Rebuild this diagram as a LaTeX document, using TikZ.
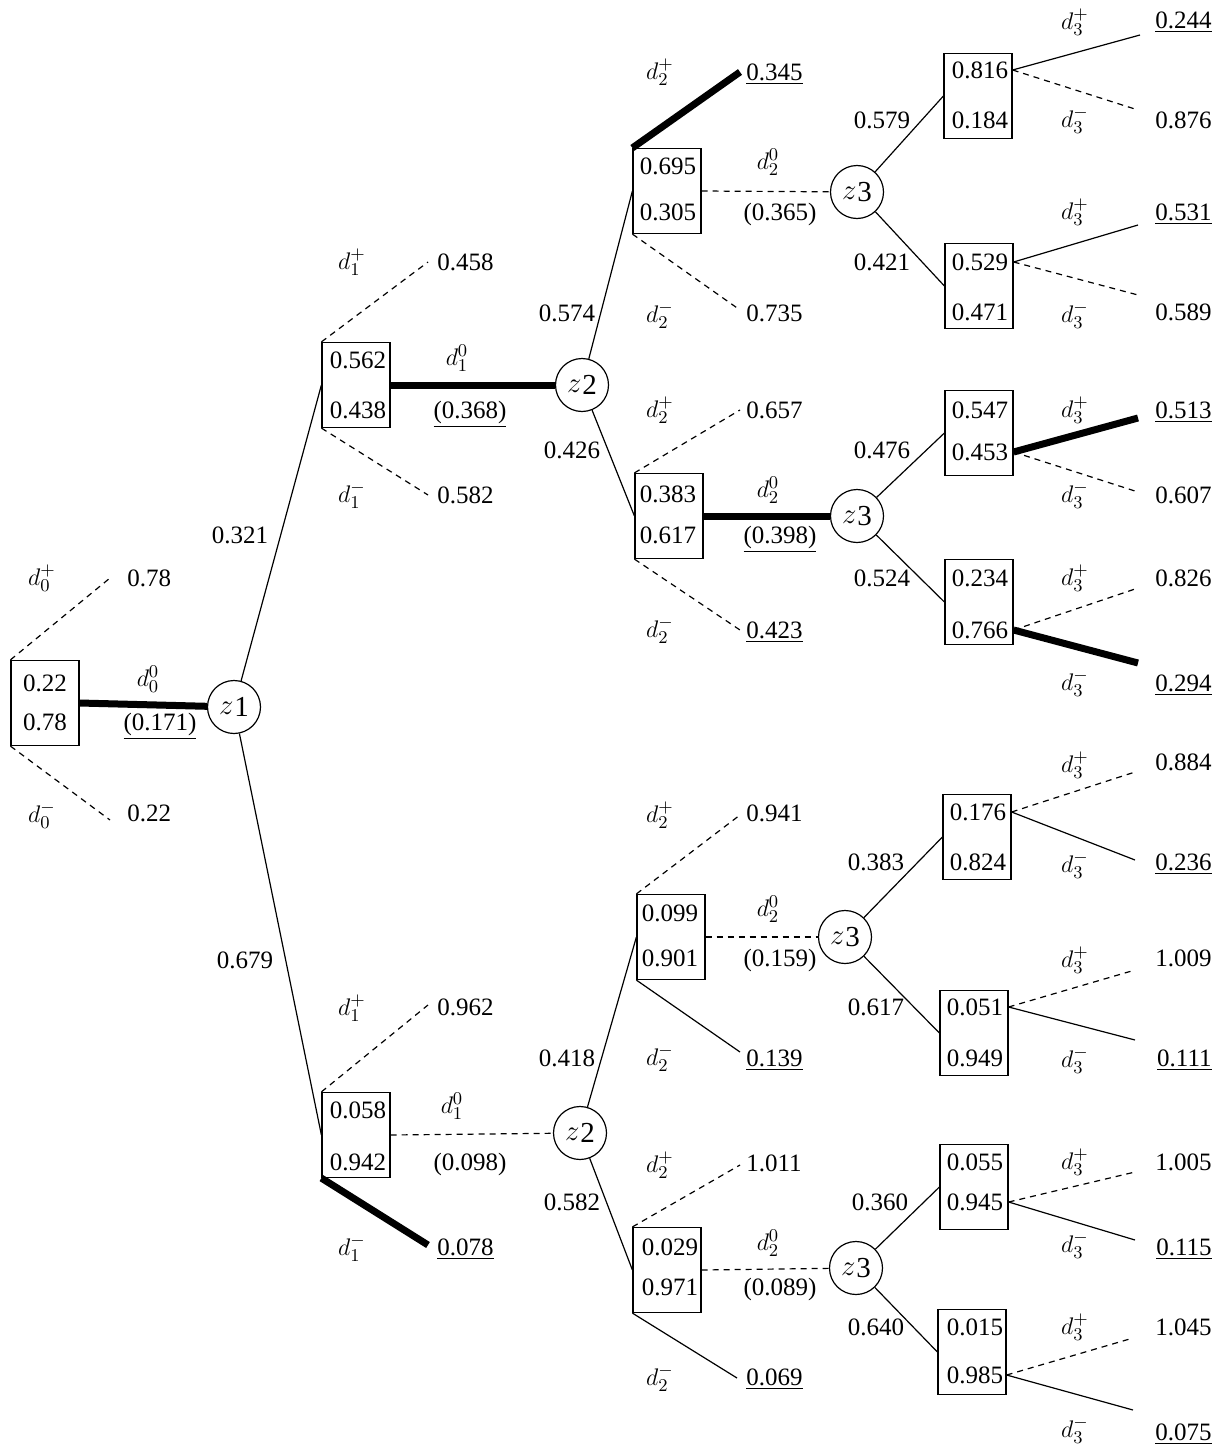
\documentclass[tikz,border=0pt]{standalone}
\usepackage{fontspec}
\setmainfont{Liberation Serif}
\newfontfamily\tms{Liberation Serif}
\begin{document}
\begin{tikzpicture}[x=0.5pt,y=-0.5pt,font=\tms\fontsize{12.5}{15}\selectfont,
  box/.style={draw,line width=0.6pt,minimum width=34pt,minimum height=42.5pt,inner sep=0pt},
  chance/.style={circle,draw,line width=0.6pt,minimum size=26.5pt,inner sep=0pt,font=\tms\fontsize{14.5}{16}\selectfont},
  num/.style={inner sep=0pt,text height=8.5pt,text depth=0pt},
  lab/.style={inner sep=0pt,font=\fontsize{13}{15}\selectfont},
  thinl/.style={line width=0.6pt},
  dsh/.style={line width=0.6pt,dash pattern=on 3pt off 2.5pt},
  heavy/.style={line width=3.5pt}]
\useasboundingbox (0,0) rectangle (1224,1445);

% ---------------- level 0 ----------------
\node[box] (B0) at (45,703) {};
\node[num] (B0t) at (45,683) {0.22};
\node[num] (B0b) at (45,722) {0.78};
\node[chance] (z1) at (234,707) {$z$\kern0.5pt\raisebox{-1pt}{1}};
\coordinate (c0p) at (110,578);
\coordinate (c0m) at (110,820);
\draw[dsh] (B0.north west) -- (c0p);
\draw[dsh] (B0.south west) -- (c0m);
\draw[heavy] (B0.east) -- (z1);
\node[lab] (l0p) at (42,578) {$d_0^{+}$};
\node[lab] (l0m) at (42,815) {$d_0^{-}$};
\node[lab] (l0z) at (148,679) {$d_0^{0}$};
\node[num,anchor=west] (v0p) at (127,578) {0.78};
\node[num,anchor=west] (v0m) at (127,813) {0.22};
\node[num] (v0z) at (160,722) {\underline{(0.171)}};

% ---------------- level 1 upper ----------------
\node[box] (B1) at (356,385) {};
\node[num] (B1t) at (358,360) {0.562};
\node[num] (B1b) at (358,410) {0.438};
\node[chance] (z2a) at (582,385) {$z$\kern0.5pt\raisebox{-1pt}{2}};
\draw[thinl] (z1) -- (B1.west);
\node[num] (p1u) at (240,535) {0.321};
\coordinate (c1p) at (428,262);
\coordinate (c1m) at (428,495);
\draw[dsh] (B1.north west) -- (c1p);
\draw[dsh] (B1.south west) -- (c1m);
\draw[heavy] (B1.east) -- (z2a);
\node[lab] (l1p) at (352,262) {$d_1^{+}$};
\node[lab] (l1m) at (352,495) {$d_1^{-}$};
\node[lab] (l1z) at (457,358) {$d_1^{0}$};
\node[num,anchor=west] (v1p) at (437,262) {0.458};
\node[num,anchor=west] (v1m) at (437,495) {0.582};
\node[num] (v1z) at (470,410) {\underline{(0.368)}};

% ---------------- level 1 lower ----------------
\node[box] (B1L) at (356,1135) {};
\node[num] (B1Lt) at (358,1110) {0.058};
\node[num] (B1Lb) at (358,1162) {0.942};
\node[chance] (z2b) at (580,1133) {$z$\kern0.5pt\raisebox{-1pt}{2}};
\draw[thinl] (z1) -- (B1L.west);
\node[num] (p1l) at (245,960) {0.679};
\coordinate (c1Lp) at (428,1005);
\coordinate (c1Lm) at (428,1245);
\draw[dsh] (B1L.north west) -- (c1Lp);
\draw[heavy] (B1L.south west) -- (c1Lm);
\draw[dsh] (B1L.east) -- (z2b);
\node[lab] (l1Lp) at (352,1008) {$d_1^{+}$};
\node[lab] (l1Lm) at (352,1248) {$d_1^{-}$};
\node[lab] (l1Lz) at (452,1106) {$d_1^{0}$};
\node[num,anchor=west] (v1Lp) at (437,1007) {0.962};
\node[num,anchor=west] (v1Lm) at (437,1247) {\underline{0.078}};
\node[num] (v1Lz) at (470,1162) {(0.098)};

% ---------------- level 2 : B2a ----------------
\node[box] (B2a) at (667,191) {};
\node[num] (B2at) at (668,166) {0.695};
\node[num] (B2ab) at (668,212) {0.305};
\node[chance] (z3a) at (857,192) {$z$\kern0.5pt\raisebox{-1pt}{3}};
\draw[thinl] (z2a) -- (B2a.west);
\node[num] (p2a) at (567,313) {0.574};
\coordinate (c2ap) at (740,72);
\coordinate (c2am) at (740,310);
\draw[heavy] (B2a.north west) -- (c2ap);
\draw[dsh] (B2a.south west) -- (c2am);
\draw[dsh] (B2a.east) -- (z3a);
\node[lab] (l2ap) at (660,72) {$d_2^{+}$};
\node[lab] (l2am) at (660,315) {$d_2^{-}$};
\node[lab] (l2az) at (768,162) {$d_2^{0}$};
\node[num,anchor=west] (v2ap) at (746,72) {\underline{0.345}};
\node[num,anchor=west] (v2am) at (746,313) {0.735};
\node[num] (v2az) at (780,212) {(0.365)};

% ---------------- level 2 : B2b ----------------
\node[box] (B2b) at (669,516) {};
\node[num] (B2bt) at (668,494) {0.383};
\node[num] (B2bb) at (668,535) {0.617};
\node[chance] (z3b) at (857,516) {$z$\kern0.5pt\raisebox{-1pt}{3}};
\draw[thinl] (z2a) -- (B2b.west);
\node[num] (p2b) at (572,450) {0.426};
\coordinate (c2bp) at (740,410);
\coordinate (c2bm) at (740,630);
\draw[dsh] (B2b.north west) -- (c2bp);
\draw[dsh] (B2b.south west) -- (c2bm);
\draw[heavy] (B2b.east) -- (z3b);
\node[lab] (l2bp) at (660,410) {$d_2^{+}$};
\node[lab] (l2bm) at (660,630) {$d_2^{-}$};
\node[lab] (l2bz) at (768,490) {$d_2^{0}$};
\node[num,anchor=west] (v2bp) at (746,410) {0.657};
\node[num,anchor=west] (v2bm) at (746,630) {\underline{0.423}};
\node[num] (v2bz) at (780,535) {\underline{(0.398)}};

% ---------------- level 2 : B2c ----------------
\node[box] (B2c) at (671,937) {};
\node[num] (B2ct) at (670,913) {0.099};
\node[num] (B2cb) at (670,958) {0.901};
\node[chance] (z3c) at (845,937) {$z$\kern0.5pt\raisebox{-1pt}{3}};
\draw[thinl] (z2b) -- (B2c.west);
\node[num] (p2c) at (567,1058) {0.418};
\coordinate (c2cp) at (740,815);
\coordinate (c2cm) at (740,1052);
\draw[dsh] (B2c.north west) -- (c2cp);
\draw[thinl] (B2c.south west) -- (c2cm);
\draw[dsh] (B2c.east) -- (z3c);
\node[lab] (l2cp) at (660,815) {$d_2^{+}$};
\node[lab] (l2cm) at (660,1058) {$d_2^{-}$};
\node[lab] (l2cz) at (768,909) {$d_2^{0}$};
\node[num,anchor=west] (v2cp) at (746,813) {0.941};
\node[num,anchor=west] (v2cm) at (746,1058) {\underline{0.139}};
\node[num] (v2cz) at (780,958) {(0.159)};

% ---------------- level 2 : B2d ----------------
\node[box] (B2d) at (667,1270) {};
\node[num] (B2dt) at (670,1247) {0.029};
\node[num] (B2db) at (670,1287) {0.971};
\node[chance] (z3d) at (856,1268) {$z$\kern0.5pt\raisebox{-1pt}{3}};
\draw[thinl] (z2b) -- (B2d.west);
\node[num] (p2d) at (572,1202) {0.582};
\coordinate (c2dp) at (740,1165);
\coordinate (c2dm) at (737,1378);
\draw[dsh] (B2d.north west) -- (c2dp);
\draw[thinl] (B2d.south west) -- (c2dm);
\draw[dsh] (B2d.east) -- (z3d);
\node[lab] (l2dp) at (660,1165) {$d_2^{+}$};
\node[lab] (l2dm) at (660,1378) {$d_2^{-}$};
\node[lab] (l2dz) at (768,1243) {$d_2^{0}$};
\node[num,anchor=west] (v2dp) at (746,1163) {1.011};
\node[num,anchor=west] (v2dm) at (746,1377) {\underline{0.069}};
\node[num] (v2dz) at (780,1287) {(0.089)};

% ---------------- level 3 ----------------
% B3a
\node[box] (B3a) at (978,96) {};
\node[num] (B3at) at (980,70) {0.816};
\node[num] (B3ab) at (980,120) {0.184};
\draw[thinl] (z3a) -- (B3a.west);
\node[num] (p3a) at (882,120) {0.579};
\coordinate (c3ap) at (1140,35);
\coordinate (c3am) at (1138,110);
\draw[thinl] (B3a.east |- B3at) -- (c3ap);
\draw[dsh] (B3a.east |- B3at) -- (c3am);
\node[lab] (l3ap) at (1075,22) {$d_3^{+}$};
\node[lab] (l3am) at (1075,120) {$d_3^{-}$};
\node[num,anchor=east] (v3ap) at (1212,20) {\underline{0.244}};
\node[num,anchor=east] (v3am) at (1212,120) {0.876};
% B3b
\node[box] (B3b) at (979,286) {};
\node[num] (B3bt) at (980,262) {0.529};
\node[num] (B3bb) at (980,312) {0.471};
\draw[thinl] (z3a) -- (B3b.west);
\node[num] (p3b) at (882,262) {0.421};
\coordinate (c3bp) at (1138,225);
\coordinate (c3bm) at (1138,295);
\draw[thinl] (B3b.east |- B3bt) -- (c3bp);
\draw[dsh] (B3b.east |- B3bt) -- (c3bm);
\node[lab] (l3bp) at (1075,212) {$d_3^{+}$};
\node[lab] (l3bm) at (1075,315) {$d_3^{-}$};
\node[num,anchor=east] (v3bp) at (1212,212) {\underline{0.531}};
\node[num,anchor=east] (v3bm) at (1212,312) {0.589};
% B3c
\node[box] (B3c) at (979,433) {};
\node[num] (B3ct) at (980,410) {0.547};
\node[num] (B3cb) at (980,452) {0.453};
\draw[thinl] (z3b) -- (B3c.west);
\node[num] (p3c) at (882,450) {0.476};
\coordinate (c3cp) at (1138,418);
\coordinate (c3cm) at (1138,492);
\draw[heavy] (B3c.east |- B3cb) -- (c3cp);
\draw[dsh] (B3c.east |- B3cb) -- (c3cm);
\node[lab] (l3cp) at (1075,410) {$d_3^{+}$};
\node[lab] (l3cm) at (1075,495) {$d_3^{-}$};
\node[num,anchor=east] (v3cp) at (1212,410) {\underline{0.513}};
\node[num,anchor=east] (v3cm) at (1212,495) {0.607};
% B3d
\node[box] (B3d) at (979,602) {};
\node[num] (B3dt) at (980,578) {0.234};
\node[num] (B3db) at (980,630) {0.766};
\draw[thinl] (z3b) -- (B3d.west);
\node[num] (p3d) at (882,578) {0.524};
\coordinate (c3dp) at (1138,588);
\coordinate (c3dm) at (1138,663);
\draw[dsh] (B3d.east |- B3db) -- (c3dp);
\draw[heavy] (B3d.east |- B3db) -- (c3dm);
\node[lab] (l3dp) at (1075,578) {$d_3^{+}$};
\node[lab] (l3dm) at (1075,683) {$d_3^{-}$};
\node[num,anchor=east] (v3dp) at (1212,578) {0.826};
\node[num,anchor=east] (v3dm) at (1212,683) {\underline{0.294}};
% B3e
\node[box] (B3e) at (977,837) {};
\node[num] (B3et) at (978,812) {0.176};
\node[num] (B3eb) at (978,862) {0.824};
\draw[thinl] (z3c) -- (B3e.west);
\node[num] (p3e) at (876,862) {0.383};
\coordinate (c3ep) at (1135,772);
\coordinate (c3em) at (1135,860);
\draw[dsh] (B3e.east |- B3et) -- (c3ep);
\draw[thinl] (B3e.east |- B3et) -- (c3em);
\node[lab] (l3ep) at (1075,765) {$d_3^{+}$};
\node[lab] (l3em) at (1075,865) {$d_3^{-}$};
\node[num,anchor=east] (v3ep) at (1212,762) {0.884};
\node[num,anchor=east] (v3em) at (1212,862) {\underline{0.236}};
% B3f
\node[box] (B3f) at (974,1033) {};
\node[num] (B3ft) at (975,1007) {0.051};
\node[num] (B3fb) at (975,1058) {0.949};
\draw[thinl] (z3c) -- (B3f.west);
\node[num] (p3f) at (876,1007) {0.617};
\coordinate (c3fp) at (1135,970);
\coordinate (c3fm) at (1135,1040);
\draw[dsh] (B3f.east |- B3ft) -- (c3fp);
\draw[thinl] (B3f.east |- B3ft) -- (c3fm);
\node[lab] (l3fp) at (1075,960) {$d_3^{+}$};
\node[lab] (l3fm) at (1075,1060) {$d_3^{-}$};
\node[num,anchor=east] (v3fp) at (1212,958) {1.009};
\node[num,anchor=east] (v3fm) at (1212,1058) {\underline{0.111}};
% B3g
\node[box] (B3g) at (974,1187) {};
\node[num] (B3gt) at (975,1162) {0.055};
\node[num] (B3gb) at (975,1202) {0.945};
\draw[thinl] (z3d) -- (B3g.west);
\node[num] (p3g) at (880,1202) {0.360};
\coordinate (c3gp) at (1135,1172);
\coordinate (c3gm) at (1135,1240);
\draw[dsh] (B3g.east |- B3gb) -- (c3gp);
\draw[thinl] (B3g.east |- B3gb) -- (c3gm);
\node[lab] (l3gp) at (1075,1162) {$d_3^{+}$};
\node[lab] (l3gm) at (1075,1245) {$d_3^{-}$};
\node[num,anchor=east] (v3gp) at (1212,1162) {1.005};
\node[num,anchor=east] (v3gm) at (1212,1247) {\underline{0.115}};
% B3h
\node[box] (B3h) at (972,1352) {};
\node[num] (B3ht) at (975,1327) {0.015};
\node[num] (B3hb) at (975,1375) {0.985};
\draw[thinl] (z3d) -- (B3h.west);
\node[num] (p3h) at (876,1327) {0.640};
\coordinate (c3hp) at (1133,1338);
\coordinate (c3hm) at (1133,1410);
\draw[dsh] (B3h.east |- B3hb) -- (c3hp);
\draw[thinl] (B3h.east |- B3hb) -- (c3hm);
\node[lab] (l3hp) at (1075,1327) {$d_3^{+}$};
\node[lab] (l3hm) at (1075,1430) {$d_3^{-}$};
\node[num,anchor=east] (v3hp) at (1212,1327) {1.045};
\node[num,anchor=east] (v3hm) at (1212,1432) {\underline{0.075}};
\end{tikzpicture}
\end{document}
